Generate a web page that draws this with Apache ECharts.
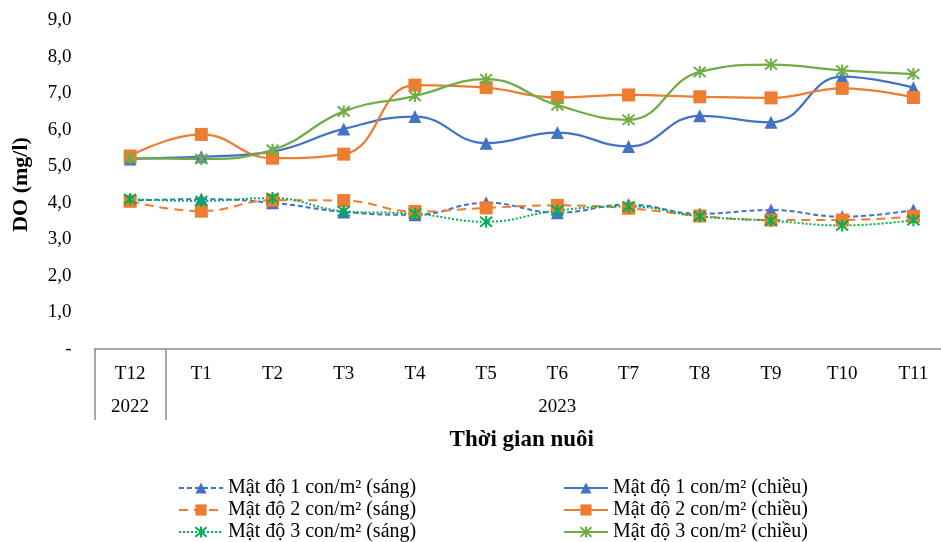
<!DOCTYPE html>
<html>
<head>
<meta charset="utf-8">
<script src="https://cdn.jsdelivr.net/npm/echarts@6/dist/echarts.min.js"></script>
<style>
html,body{margin:0;padding:0;background:#fff;overflow:hidden;width:941px;height:542px;}
#chart{width:949px;height:542px;}
</style>
</head>
<body>
<div id="chart"></div>
<script>
// ---- data ----
const months = ['T12','T1','T2','T3','T4','T5','T6','T7','T8','T9','T10','T11'];
const years = ['2022','2023'];
const yearSpans = [1, 11];
const yTicks = [0,1,2,3,4,5,6,7,8,9];

const names = [
  'Mật độ 1 con/m² (sáng)',
  'Mật độ 2 con/m² (sáng)',
  'Mật độ 3 con/m² (sáng)',
  'Mật độ 1 con/m² (chiều)',
  'Mật độ 2 con/m² (chiều)',
  'Mật độ 3 con/m² (chiều)'
];
const d1Sang   = [4.06, 4.10, 4.00, 3.75, 3.67, 4.00, 3.73, 3.95, 3.70, 3.80, 3.62, 3.80];
const d2Sang   = [4.04, 3.77, 4.07, 4.06, 3.76, 3.86, 3.93, 3.85, 3.64, 3.53, 3.53, 3.63];
const d3Sang   = [4.10, 4.05, 4.13, 3.77, 3.70, 3.48, 3.79, 3.90, 3.63, 3.51, 3.38, 3.52];
const d1Chieu  = [5.20, 5.26, 5.40, 6.02, 6.36, 5.63, 5.92, 5.54, 6.38, 6.20, 7.45, 7.15];
const d2Chieu  = [5.28, 5.87, 5.22, 5.33, 7.22, 7.15, 6.88, 6.95, 6.90, 6.87, 7.13, 6.88];
const d3Chieu  = [5.22, 5.20, 5.45, 6.50, 6.92, 7.38, 6.67, 6.27, 7.58, 7.78, 7.62, 7.52];

// ---- derived helpers ----
const groupStarts = [];
const yearAtIndex = {};
let acc = 0;
yearSpans.forEach((span, i) => {
  groupStarts.push(acc);
  yearAtIndex[acc + Math.floor(span / 2)] = years[i];
  acc += span;
});

const FONT = '"Liberation Serif", "Times New Roman", serif';
const BLUE = '#4472C4', ORANGE = '#ED7D31', GREEN = '#70AD47', GREEN2 = '#00B050';
const STAR = 'path://M0,0 L10,10 M10,0 L0,10 M5,-1 L5,11';
const SMOOTH = 0.45;

function mk(name, data, color, width, symbol, size, isStar, dash) {
  const s = {
    name: name, type: 'line', data: data, smooth: SMOOTH,
    symbol: symbol, symbolSize: size,
    lineStyle: { color: color, width: width, type: dash || 'solid' },
    itemStyle: { color: color },
    emphasis: { disabled: true },
    z: 2
  };
  if (isStar) {
    s.itemStyle = { color: color, borderColor: color, borderWidth: 2 };
  }
  return s;
}

const series = [
  mk(names[0], d1Sang, BLUE, 2, 'triangle', 13, false, [5, 3]),
  mk(names[1], d2Sang, ORANGE, 2, 'rect', 13, false, [9, 6]),
  mk(names[2], d3Sang, GREEN2, 2, STAR, 12, true, [2, 2]),
  mk(names[3], d1Chieu, BLUE, 2.25, 'triangle', 13, false),
  mk(names[4], d2Chieu, ORANGE, 2.25, 'rect', 13, false),
  mk(names[5], d3Chieu, GREEN, 2.25, STAR, 12, true)
];

const legendCommon = {
  orient: 'vertical',
  top: 478,
  padding: 0,
  itemWidth: 44, itemHeight: 14, itemGap: 2,
  textStyle: { fontFamily: FONT, fontSize: 20, color: '#000', lineHeight: 20 },
  selectedMode: false
};

const chart = echarts.init(document.getElementById('chart'), null, { renderer: 'canvas' });
chart.setOption({
  animation: false,
  backgroundColor: '#fff',
  textStyle: { fontFamily: FONT },
  grid: { left: 94.5, right: 0, top: 20, bottom: 193, containLabel: false },
  xAxis: {
    type: 'category',
    data: months,
    boundaryGap: true,
    name: 'Thời gian nuôi',
    nameLocation: 'middle',
    nameGap: 78,
    nameTextStyle: { fontFamily: FONT, fontSize: 23, fontWeight: 'bold', color: '#000' },
    axisLine: { show: true, lineStyle: { color: '#8c8c8c', width: 1.5 } },
    axisTick: {
      show: true,
      interval: function (index) { return groupStarts.indexOf(index) >= 0; },
      length: 71,
      lineStyle: { color: '#8c8c8c', width: 1.5 }
    },
    axisLabel: {
      interval: 0,
      margin: 9,
      fontFamily: FONT,
      fontSize: 19,
      color: '#000',
      lineHeight: 33,
      formatter: function (value, index) {
        return value + '\n' + (yearAtIndex[index] || ' ');
      }
    },
    splitLine: { show: false }
  },
  yAxis: {
    type: 'value',
    min: yTicks[0],
    max: yTicks[yTicks.length - 1],
    interval: 1,
    name: 'DO (mg/l)',
    nameLocation: 'middle',
    nameGap: 62,
    nameTextStyle: { fontFamily: FONT, fontSize: 22, fontWeight: 'bold', color: '#000' },
    axisLine: { show: false },
    axisTick: { show: false },
    splitLine: { show: false },
    axisLabel: {
      margin: 23,
      fontFamily: FONT,
      fontSize: 19,
      color: '#000',
      formatter: function (v) { return v === 0 ? '-' : v.toFixed(1).replace('.', ','); }
    }
  },
  legend: [
    Object.assign({}, legendCommon, { data: names.slice(0, 3), left: 178 }),
    Object.assign({}, legendCommon, { data: names.slice(3, 6), left: 563 })
  ],
  series: series
});
</script>
</body>
</html>
